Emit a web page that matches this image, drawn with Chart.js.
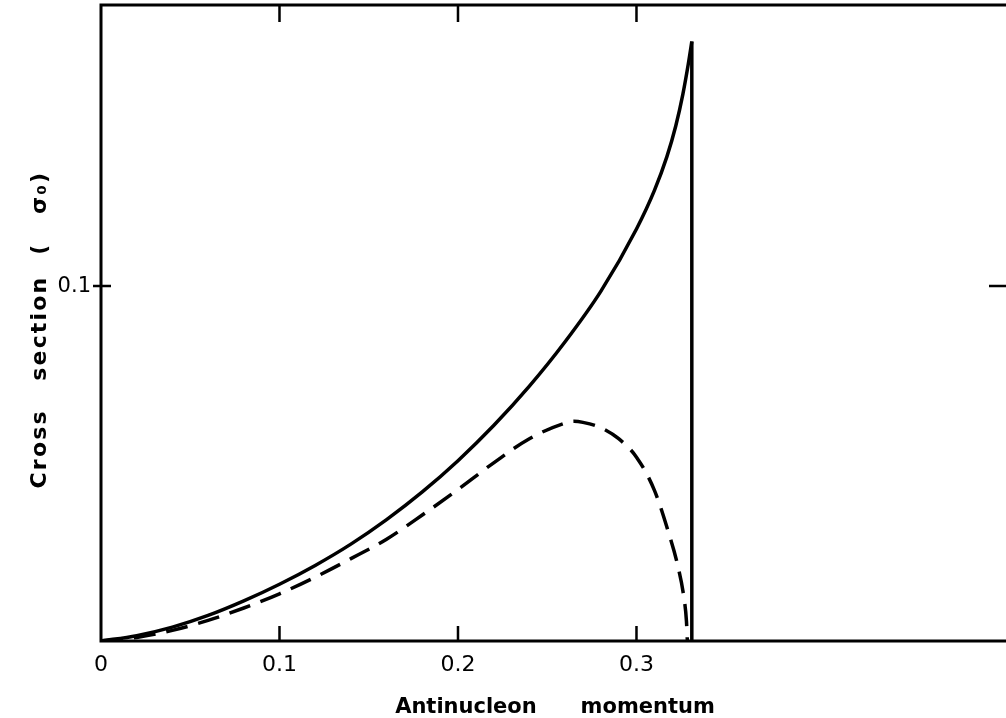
<!DOCTYPE html>
<html>
<head>
<meta charset="utf-8">
<script src="https://cdn.jsdelivr.net/npm/chart.js@4/dist/chart.umd.min.js"></script>
<style>
  html, body { margin: 0; padding: 0; background: #fff; overflow: hidden; }
  #wrap { width: 1012px; height: 718px; }
</style>
</head>
<body>
<div id="wrap"><canvas id="myChart" width="1012" height="718"></canvas></div>
<script>
// solid curve (total cross section)
let momentumSolid = [0, 0.02, 0.04, 0.06, 0.08, 0.10, 0.12, 0.14, 0.16, 0.18, 0.20, 0.22, 0.24, 0.26, 0.28, 0.30, 0.31, 0.317, 0.322, 0.326, 0.329, 0.331]
let crossSolid = [0, 0.0015, 0.0039, 0.0072, 0.0113, 0.0160, 0.0213, 0.0273, 0.0342, 0.0420, 0.0508, 0.0607, 0.0718, 0.0843, 0.0985, 0.1161, 0.1269, 0.1364, 0.1451, 0.1541, 0.1625, 0.1689]

// dashed curve
let momentumDashed = [0, 0.02, 0.04, 0.06, 0.08, 0.10, 0.12, 0.14, 0.16, 0.18, 0.20, 0.22, 0.24, 0.26, 0.265, 0.27, 0.28, 0.29, 0.30, 0.31, 0.318, 0.323, 0.3265, 0.328, 0.3285]
let crossDashed = [0, 0.0010, 0.0030, 0.0058, 0.0093, 0.0133, 0.0180, 0.0232, 0.0287, 0.0355, 0.0427, 0.0502, 0.0570, 0.0614, 0.0619, 0.0616, 0.0601, 0.0570, 0.0518, 0.0425, 0.0305, 0.0215, 0.0125, 0.0055, 0]

let xTicks = [0, 0.1, 0.2, 0.3]
let yTicks = [0.1]
let xMax = 0.5087
let yMax = 0.1792

const toPoints = (xs, ys) => xs.map((x, i) => ({ x: x, y: ys[i] }))
// the lettering of the original is spaced out a bit
const spaced = (str) => str.split('').join('\u200A')

let peak = momentumSolid.length - 1
let dropX = [momentumSolid[peak], momentumSolid[peak]]
let dropY = [crossSolid[peak], 0]

const frame = {
  id: 'frame',
  afterDraw(chart) {
    const { ctx, chartArea: a, scales } = chart
    ctx.save()
    ctx.strokeStyle = '#000'
    ctx.lineWidth = 3
    ctx.strokeRect(a.left, a.top, a.right - a.left, a.bottom - a.top)
    ctx.lineWidth = 2.5
    xTicks.filter(v => v > 0).forEach(v => {
      let px = scales.x.getPixelForValue(v)
      ctx.beginPath()
      ctx.moveTo(px, a.bottom)
      ctx.lineTo(px, a.bottom - 15)
      ctx.moveTo(px, a.top)
      ctx.lineTo(px, a.top + 17)
      ctx.stroke()
    })
    yTicks.forEach(v => {
      let py = scales.y.getPixelForValue(v)
      ctx.beginPath()
      ctx.moveTo(a.left - 8, py)
      ctx.lineTo(a.left + 10, py)
      ctx.moveTo(a.right - 20, py)
      ctx.lineTo(a.right, py)
      ctx.stroke()
    })
    ctx.restore()
  }
}

const canvas = document.querySelector('#myChart')
const chart = new Chart(canvas, {
  type: 'scatter',
  data: {
    datasets: [
      {
        data: toPoints(momentumSolid, crossSolid),
        showLine: true,
        borderColor: '#000',
        borderWidth: 3.5,
        pointRadius: 0,
        cubicInterpolationMode: 'monotone'
      },
      {
        data: toPoints(dropX, dropY),
        showLine: true,
        borderColor: '#000',
        borderWidth: 3.5,
        pointRadius: 0
      },
      {
        data: toPoints(momentumDashed, crossDashed),
        showLine: true,
        borderColor: '#000',
        borderWidth: 3.5,
        borderDash: [22, 11],
        pointRadius: 0,
        cubicInterpolationMode: 'monotone'
      }
    ]
  },
  options: {
    responsive: false,
    animation: false,
    layout: { padding: { left: 0, top: 5, right: 3, bottom: 0 } },
    plugins: { legend: { display: false }, tooltip: { enabled: false } },
    scales: {
      x: {
        type: 'linear',
        min: 0,
        max: xMax,
        afterBuildTicks: (scale) => { scale.ticks = xTicks.map(v => ({ value: v })) },
        afterFit: (scale) => {
          scale.height = 77
          scale.paddingLeft = 0
          scale.paddingRight = 0
        },
        grid: { display: false, drawTicks: false },
        border: { display: false },
        ticks: {
          color: '#000',
          padding: 11,
          maxRotation: 0,
          font: { family: 'DejaVu Sans', size: 22 },
          callback: v => v === 0 ? '0' : v.toFixed(1)
        },
        title: {
          display: true,
          text: 'Antinucleon      momentum',
          color: '#000',
          padding: 0,
          font: { family: 'DejaVu Sans', size: 21, weight: 'bold', lineHeight: 1 }
        }
      },
      y: {
        type: 'linear',
        min: 0,
        max: yMax,
        afterBuildTicks: (scale) => { scale.ticks = yTicks.map(v => ({ value: v })) },
        afterFit: (scale) => {
          scale.width = 101
          scale.paddingTop = 0
          scale.paddingBottom = 0
        },
        grid: { display: false, drawTicks: false },
        border: { display: false },
        ticks: {
          color: '#000',
          padding: 10,
          font: { family: 'DejaVu Sans', size: 21 },
          callback: v => v.toFixed(1)
        },
        title: {
          display: true,
          text: spaced('Cross') + '    ' + spaced('section') + '   (    ' + spaced('σ₀)') + '  ',
          color: '#000',
          padding: 29,
          font: { family: 'DejaVu Sans', size: 22, weight: 'bold', lineHeight: 1 }
        }
      }
    }
  },
  plugins: [frame]
})
</script>
</body>
</html>
